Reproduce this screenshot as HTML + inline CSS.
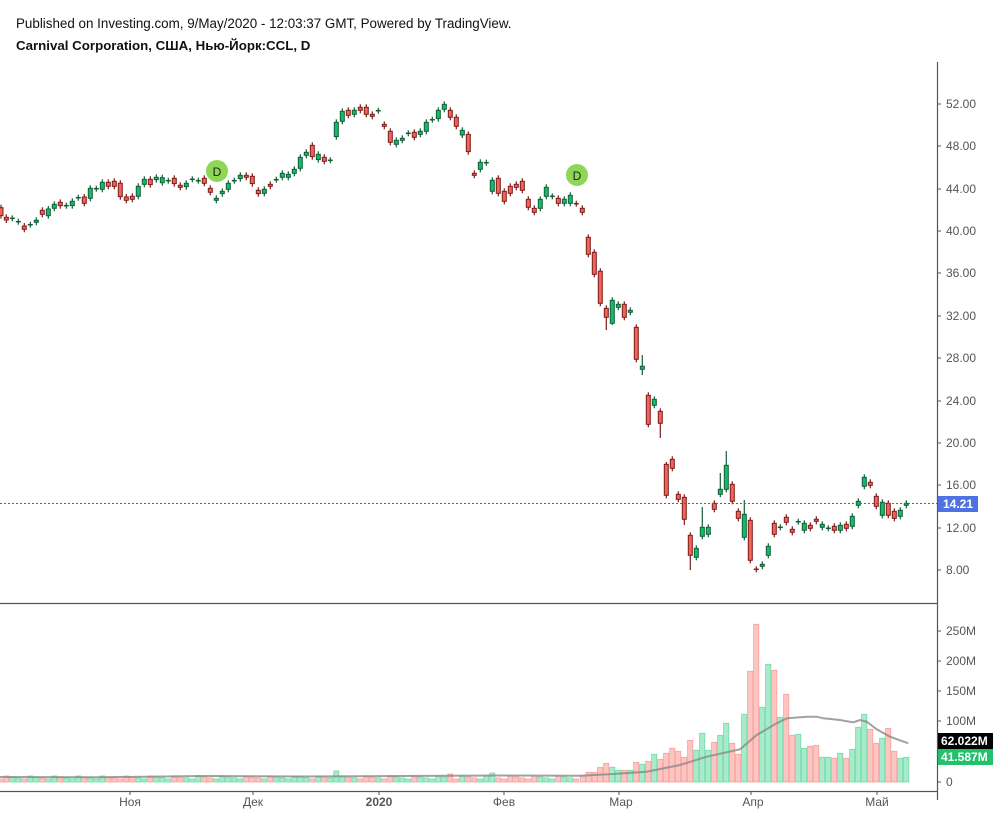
<!DOCTYPE html>
<html><head><meta charset="utf-8">
<style>
html,body{margin:0;padding:0;background:#fff;width:1000px;height:823px;overflow:hidden;}
svg{display:block;font-family:"Liberation Sans",sans-serif;}
</style></head>
<body>
<svg id="c" width="1000" height="823" viewBox="0 0 1000 823" xmlns="http://www.w3.org/2000/svg">
<rect width="1000" height="823" fill="#fff"/>
<text x="16" y="28" font-size="13.4" fill="#111">Published on Investing.com, 9/May/2020 - 12:03:37 GMT, Powered by TradingView.</text>
<text x="16" y="50" font-size="13.3" font-weight="bold" fill="#111">Carnival Corporation, США, Нью-Йорк:CCL, D</text>
<g id="g"></g>
<line x1="937.5" y1="62" x2="937.5" y2="800" stroke="#555" stroke-width="1.2"/>
<line x1="0" y1="603.5" x2="937" y2="603.5" stroke="#555" stroke-width="1.2"/>
<line x1="0" y1="791.5" x2="937" y2="791.5" stroke="#555" stroke-width="1.2"/>
<line x1="0" y1="503.5" x2="937" y2="503.5" stroke="#3a5fd8" stroke-width="1" stroke-dasharray="2,2"/>
<g font-size="12" fill="#555">
<text x="946" y="108">52.00</text><text x="946" y="150">48.00</text><text x="946" y="193">44.00</text>
<text x="946" y="235">40.00</text><text x="946" y="277">36.00</text><text x="946" y="320">32.00</text>
<text x="946" y="362">28.00</text><text x="946" y="405">24.00</text><text x="946" y="447">20.00</text>
<text x="946" y="489">16.00</text><text x="946" y="532">12.00</text><text x="946" y="574">8.00</text>
<text x="946" y="635">250M</text><text x="946" y="665">200M</text><text x="946" y="695">150M</text>
<text x="946" y="725">100M</text><text x="946" y="786">0</text>
<text x="130" y="806" text-anchor="middle">Ноя</text><text x="253" y="806" text-anchor="middle">Дек</text>
<text x="379" y="806" text-anchor="middle" font-weight="bold">2020</text><text x="504" y="806" text-anchor="middle">Фев</text>
<text x="621" y="806" text-anchor="middle">Мар</text><text x="753" y="806" text-anchor="middle">Апр</text>
<text x="877" y="806" text-anchor="middle">Май</text>
</g>
<g stroke="#555">
<line x1="937" y1="104" x2="941" y2="104"/><line x1="937" y1="146" x2="941" y2="146"/><line x1="937" y1="189" x2="941" y2="189"/>
<line x1="937" y1="231" x2="941" y2="231"/><line x1="937" y1="273" x2="941" y2="273"/><line x1="937" y1="316" x2="941" y2="316"/>
<line x1="937" y1="358" x2="941" y2="358"/><line x1="937" y1="401" x2="941" y2="401"/><line x1="937" y1="443" x2="941" y2="443"/>
<line x1="937" y1="485" x2="941" y2="485"/><line x1="937" y1="528" x2="941" y2="528"/><line x1="937" y1="570" x2="941" y2="570"/>
<line x1="937" y1="631" x2="941" y2="631"/><line x1="937" y1="661" x2="941" y2="661"/><line x1="937" y1="691" x2="941" y2="691"/>
<line x1="937" y1="721" x2="941" y2="721"/><line x1="937" y1="782" x2="941" y2="782"/>
<line x1="130" y1="791" x2="130" y2="795"/><line x1="253" y1="791" x2="253" y2="795"/><line x1="379" y1="791" x2="379" y2="795"/>
<line x1="504" y1="791" x2="504" y2="795"/><line x1="619" y1="791" x2="619" y2="795"/><line x1="751" y1="791" x2="751" y2="795"/>
<line x1="877" y1="791" x2="877" y2="795"/>
</g>
<rect x="938" y="496" width="40" height="16" fill="#4f72e3"/>
<text x="958" y="508" font-size="12" fill="#fff" font-weight="bold" text-anchor="middle">14.21</text>
<rect x="938" y="733" width="55" height="16" fill="#000"/>
<text x="941" y="745" font-size="12" fill="#fff" font-weight="bold">62.022M</text>
<rect x="938" y="749" width="55" height="16" fill="#22c26a"/>
<text x="941" y="761" font-size="12" fill="#fff" font-weight="bold">41.587M</text>
<circle cx="217" cy="171" r="11" fill="#8ed655"/><text x="217" y="176" font-size="12" text-anchor="middle" fill="#222">D</text>
<circle cx="577" cy="175" r="11" fill="#8ed655"/><text x="577" y="180" font-size="12" text-anchor="middle" fill="#222">D</text>
</svg>
<script>
var z1=[[3,353,377,0],[19,382,390,0],[37,385,385,2],[55,395,395,2],[73,408,418,0],[91,404,404,2],[109,391,397,1],[127,361,373,0],[145,357,377,1],[163,343,355,1],[181,337,347,0],[199,347,347,2],[217,334,347,1],[235,323,323,2],[253,321,340,0],[271,295,325,1],[289,296,296,2],[307,277,298,1],[325,277,289,0],[343,274,289,0],[361,280,320,0],[379,321,331,0],[397,319,328,0],[415,289,319,1],[433,268,283,1],[451,268,284,0],[469,262,269,1],[487,263,278,1],[505,272,272,2],[523,265,281,0],[541,286,292,0],[559,280,290,1],[577,268,268,2],[595,272,272,2],[613,265,280,0],[631,295,307,0],[649,325,331,1],[667,304,311,1],[685,280,298,1],[703,272,272,2],[721,256,266,1],[739,256,262,0],[757,259,281,0],[775,301,311,0],[793,298,310,1],[811,283,289,0],[829,269,269,2],[847,250,262,1],[865,253,262,1],[883,238,250,1],[901,202,235,1],[919,187,196,1],[937,166,200,0],[955,193,209,1],[973,202,214,0],[991,211,211,2],[1009,97,140,1],[1027,64,94,1],[1045,61,76,0],[1063,61,73,1],[1081,52,61,0],[1099,52,73,0],[1117,73,79,0],[1135,62,62,2],[1153,103,109,0],[1171,124,157,0],[1189,151,163,1],[1207,145,151,1],[1225,130,130,2],[1243,127,142,0],[1261,124,133,1],[1279,97,124,1],[1297,89,89,2],[1315,61,86,1],[1333,43,58,1],[1351,61,82,0],[1369,82,109,0]];
var c=[];
z1.forEach(function(a){c.push([a[0]/3,90+a[1]/3,90+a[2]/3,a[3]]);});
var z2=[[7,121,135,1],[25,133,185,0],[43,250,256,0],[61,217,238,1],[79,218,218,2],[97,271,304,1],[115,265,310,0],[133,304,334,0],[151,289,310,0],[169,283,292,0],[187,274,301,0],[205,328,352,0],[223,355,367,0],[241,328,355,1],[259,292,319,1],[277,319,319,2],[295,325,340,0],[313,328,340,1],[331,316,340,1],[349,341,341,3],[367,355,367,0],[385,442,493,0],[403,487,553,0],[421,544,640,0],[439,655,682,0],[457,631,700,1],[475,643,652,1],[493,643,682,0],[511,661,667,1],[529,712,808,0],[547,829,838,1]];
z2.forEach(function(a){c.push([460+a[0]/3,90+a[1]/3,90+a[2]/3,a[3]]);});
var z3=[[55,46,133,0],[73,58,76,1],[91,94,130,0],[109,253,346,0],[127,238,265,0],[145,343,358,0],[163,352,418,0],[181,466,526,0],[199,505,532,1],[217,442,469,1],[235,442,463,1],[253,370,388,0],[271,328,343,1],[289,256,328,1],[307,313,364,0],[325,394,415,0],[343,403,472,1],[361,421,541,0],[379,568,568,3],[397,553,559,1],[415,499,526,1],[433,430,463,0],[451,442,442,2],[469,412,427,0],[487,448,457,0],[505,425,425,2],[523,430,451,1],[541,436,445,0],[559,418,424,0],[577,433,442,1],[595,445,445,2],[613,439,451,0],[631,436,451,1],[649,433,445,0],[667,409,439,1],[685,364,376,1],[703,292,319,1],[721,307,316,0],[739,349,379,0],[757,367,406,1],[775,370,406,0],[793,394,415,0],[811,391,409,1],[829,370,376,1]];
z3.forEach(function(a){c.push([630+a[0]/3,380+a[1]/3,380+a[2]/3,a[3]]);});
var big={666:[462,0],690:[0,570],660:[0,438],606:[0,330],726:[451,0],744:[500,0],612:[0,325],636:[0,0],642:[355,375],684:[0,525],720:[473,0],714:[0,0],702:[507,0]};
var s='';
var GF='#0cbf6c',GS='#145c36',RF='#f26359',RS='#7a1c1a';
var vb=[[0,498,0],[17,487,0],[35,487,0],[52,472,0],[70,460,0],[88,472,1],[106,481,1],[124,481,0],[142,481,1],[160,457,0],[178,463,1],[196,454,0],[214,433,1],[232,448,0],[250,430,0],[268,415,0],[286,424,0],[304,442,0],[322,391,0],[340,421,1],[358,370,1],[376,421,1],[394,397,0],[412,376,1],[430,340,1],[448,400,0],[466,433,0],[484,313,1],[502,184,0],[520,43,0],[538,292,1],[556,163,1],[574,181,0],[592,322,1],[610,253,0],[628,376,0],[646,373,1],[664,415,1],[682,409,0],[700,406,0],[718,442,1],[736,442,1],[754,445,0],[772,430,1],[790,445,0],[808,418,1],[826,352,1],[844,313,1],[862,358,0],[880,400,0],[898,385,1],[916,355,0],[934,424,0],[952,445,1],[970,442,1]];
c.forEach(function(d,i){
  var x=d[0];
  if(x<579){
    var h=3+((i*7)%4);
    if(Math.abs(x-337)<3)h=11;if(Math.abs(x-450)<3)h=8;if(Math.abs(x-492)<3)h=9;if(Math.abs(x-300)<3)h=6;
    var gc=(d[3]==1||d[3]==2);
    s+='<rect x="'+(x-2.5).toFixed(1)+'" y="'+(782-h)+'" width="5" height="'+h+'" fill="'+(gc?'#a8ebcb':'#fcc5c1')+'" stroke="'+(gc?'#6fdca8':'#f7a19b')+'" stroke-width="0.8"/>';
  }
});
vb.forEach(function(b){
  var x=580+b[0]/3,t=610+b[1]/3;
  var gc=b[2]==1;
  s+='<rect x="'+(x+0.3).toFixed(1)+'" y="'+t.toFixed(1)+'" width="5.2" height="'+(782-t).toFixed(1)+'" fill="'+(gc?'#a8ebcb':'#fcc5c1')+'" stroke="'+(gc?'#6fdca8':'#f7a19b')+'" stroke-width="0.8"/>';
});
var ma=[[0,777],[100,777.3],[200,776],[300,776.5],[400,776],[500,775.5],[580,775.8]];
var mz=[[0,497],[100,492],[200,485],[300,465],[380,440],[480,418],[530,375],[590,340],[620,325],[680,320],[710,320],[730,325],[780,330],[820,337],[840,330],[860,335],[890,358],[930,380],[985,400]];
mz.forEach(function(p){ma.push([580+p[0]/3,610+p[1]/3]);});
s+='<polyline points="'+ma.map(function(p){return p[0].toFixed(1)+','+p[1].toFixed(1)}).join(' ')+'" fill="none" stroke="#8a8a8a" stroke-width="2" opacity="0.8"/>';
c.forEach(function(d){
  var x=d[0],t=d[1],b=d[2],k=d[3];
  var ws=(k==0||k==3)?RS:GS;
  var wt=t-3,wb=b+3;
  var key=Math.round(x);
  if(big[key]){ if(big[key][0])wt=big[key][0]; if(big[key][1])wb=big[key][1]; }
  s+='<line x1="'+x.toFixed(1)+'" y1="'+wt.toFixed(1)+'" x2="'+x.toFixed(1)+'" y2="'+wb.toFixed(1)+'" stroke="'+ws+'" stroke-width="1.2"/>';
  if(k>=2){
    s+='<line x1="'+(x-2.5).toFixed(1)+'" y1="'+t.toFixed(1)+'" x2="'+(x+2.5).toFixed(1)+'" y2="'+t.toFixed(1)+'" stroke="'+ws+'" stroke-width="1.5"/>';
  } else {
    var h=Math.max(b-t,2);
    s+='<rect x="'+(x-2).toFixed(1)+'" y="'+t.toFixed(1)+'" width="4" height="'+h.toFixed(1)+'" fill="'+(k==1?GF:RF)+'" stroke="'+ws+'" stroke-width="1"/>';
  }
});
document.getElementById('g').innerHTML=s;
</script>
</body></html>
